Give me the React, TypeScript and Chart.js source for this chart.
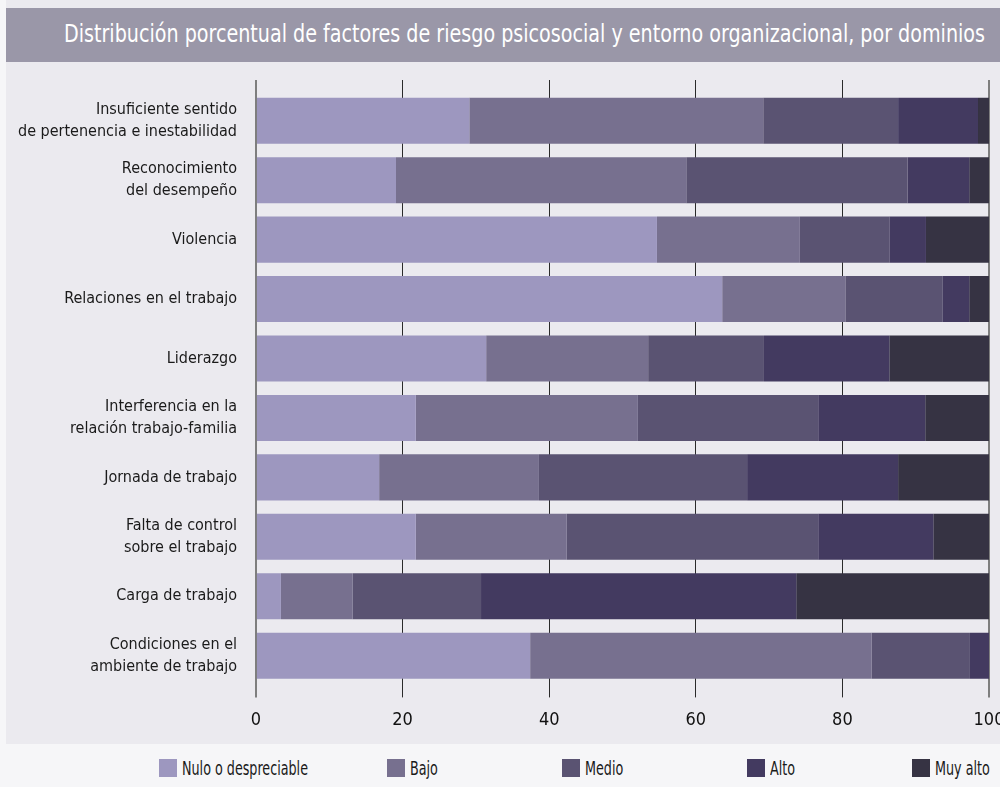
import React, { useEffect, useRef } from "react";
import { Chart, registerables } from "chart.js";

Chart.register(...registerables);

const categories: (string | string[])[] = [
  ["Insuficiente sentido", "de pertenencia e inestabilidad"],
  ["Reconocimiento", "del desempeño"],
  "Violencia",
  "Relaciones en el trabajo",
  "Liderazgo",
  ["Interferencia en la", "relación trabajo-familia"],
  "Jornada de trabajo",
  ["Falta de control", "sobre el trabajo"],
  "Carga de trabajo",
  ["Condiciones en el", "ambiente de trabajo"],
];

const nulo = [29.1, 19.1, 54.7, 63.6, 31.4, 21.8, 16.8, 21.8, 3.4, 37.4];
const bajo = [40.1, 39.6, 19.5, 16.8, 22.1, 30.3, 21.8, 20.6, 9.8, 46.6];
const medio = [18.4, 30.2, 12.2, 13.3, 15.8, 24.6, 28.4, 34.3, 17.5, 13.4];
const alto = [10.9, 8.4, 5.0, 3.6, 17.1, 14.6, 20.6, 15.7, 43.0, 2.6];
const muyAlto = [1.5, 2.7, 8.6, 2.7, 13.6, 8.7, 12.4, 7.6, 26.3, 0];

const seriesNames = ["Nulo o despreciable", "Bajo", "Medio", "Alto", "Muy alto"];
const seriesValues = [nulo, bajo, medio, alto, muyAlto];
const seriesColors = ["#9d97bf", "#77708f", "#5a5372", "#433a60", "#363343"];

const xTicks = [0, 20, 40, 60, 80, 100];

const titleText =
  "Distribución porcentual de factores de riesgo psicosocial y entorno organizacional, por dominios";

const FONT = '"DejaVu Sans Condensed", "DejaVu Sans", sans-serif';

const legendLeft = [159, 387, 562, 747, 912];

function measure(text: string, font: string): number {
  const c = document.createElement("canvas").getContext("2d");
  if (!c) return 1;
  c.font = font;
  return c.measureText(text).width || 1;
}

export default function App() {
  const canvasRef = useRef<HTMLCanvasElement | null>(null);

  const titleScale = 921 / measure(titleText, `24px ${FONT}`);
  const legendScale = 126 / measure(seriesNames[0], `19px ${FONT}`);

  useEffect(() => {
    if (!canvasRef.current) return;
    const gridColor = (ctx: any) => {
      const v = ctx.tick ? ctx.tick.value : null;
      return v === 0 || v === 100 ? "#7e7e7e" : "#2a2a2a";
    };
    const gridWidth = (ctx: any) => {
      const v = ctx.tick ? ctx.tick.value : null;
      return v === 0 || v === 100 ? 2 : 1;
    };
    const setTicks = (s: any) => {
      s.ticks = xTicks.map((v) => ({ value: v }));
    };
    const chart = new Chart(canvasRef.current, {
      type: "bar",
      data: {
        labels: categories as any,
        datasets: seriesNames.map((name, i) => ({
          label: name,
          data: seriesValues[i],
          backgroundColor: seriesColors[i],
          borderWidth: 0,
          barPercentage: 0.775,
          categoryPercentage: 1,
        })),
      },
      options: {
        indexAxis: "y",
        animation: false,
        responsive: true,
        maintainAspectRatio: false,
        layout: { padding: { top: 18, right: 11, bottom: 1, left: 0 } },
        plugins: {
          legend: { display: false },
          title: { display: false },
          tooltip: { enabled: false },
        },
        scales: {
          x: {
            type: "linear",
            position: "bottom",
            stacked: true,
            min: 0,
            max: 100,
            afterBuildTicks: setTicks,
            afterFit: (s: any) => {
              s.paddingRight = 0;
              s.paddingLeft = 0;
            },
            grid: {
              color: gridColor,
              lineWidth: gridWidth,
              tickLength: 12,
              drawTicks: true,
            },
            border: { display: false },
            ticks: {
              padding: 12,
              color: "#111111",
              font: { family: FONT, size: 18 },
            },
          },
          x2: {
            type: "linear",
            position: "top",
            min: 0,
            max: 100,
            afterBuildTicks: setTicks,
            afterFit: (s: any) => {
              s.paddingRight = 0;
              s.paddingLeft = 0;
            },
            grid: {
              color: gridColor,
              lineWidth: gridWidth,
              tickLength: 11,
              drawOnChartArea: false,
              drawTicks: true,
            },
            border: { display: false },
            ticks: { display: false },
          },
          y: {
            type: "category",
            stacked: true,
            afterFit: (s: any) => {
              s.width = 256;
              s.paddingTop = 0;
              s.paddingBottom = 0;
            },
            grid: { display: false, drawTicks: false },
            border: { display: false },
            ticks: {
              padding: 19,
              color: "#1a1a1a",
              font: { family: FONT, size: 16, lineHeight: 1.38 },
            },
          },
        },
      },
    });
    return () => chart.destroy();
  }, []);

  return (
    <div
      style={{
        position: "absolute",
        left: 0,
        top: 0,
        width: 1000,
        height: 787,
        overflow: "hidden",
        background: "#f6f6f8",
        fontFamily: FONT,
      }}
    >
      <div
        style={{
          position: "absolute",
          left: 6,
          top: 0,
          width: 994,
          height: 744,
          background: "#ebeaef",
        }}
      />
      <div
        style={{
          position: "absolute",
          left: 6,
          top: 8,
          width: 994,
          height: 54,
          background: "#9a97a8",
        }}
      >
        <span
          style={{
            position: "absolute",
            left: 58,
            top: 0,
            lineHeight: "52px",
            fontSize: 24,
            color: "#ffffff",
            whiteSpace: "nowrap",
            transform: `scaleX(${titleScale})`,
            transformOrigin: "left center",
          }}
        >
          {titleText}
        </span>
      </div>
      <div
        style={{
          position: "absolute",
          left: 0,
          top: 62,
          width: 1000,
          height: 682,
        }}
      >
        <canvas ref={canvasRef} />
      </div>
      {seriesNames.map((name, i) => (
        <div
          key={name}
          style={{
            position: "absolute",
            left: legendLeft[i],
            top: 759,
            height: 18,
            display: "flex",
            alignItems: "center",
            whiteSpace: "nowrap",
            fontSize: 19,
            color: "#1a1a1a",
          }}
        >
          <span
            style={{
              display: "inline-block",
              width: 18,
              height: 18,
              background: seriesColors[i],
              marginRight: 5,
              flex: "none",
            }}
          />
          <span
            style={{
              display: "inline-block",
              transform: `scaleX(${legendScale})`,
              transformOrigin: "left center",
            }}
          >
            {name}
          </span>
        </div>
      ))}
    </div>
  );
}
